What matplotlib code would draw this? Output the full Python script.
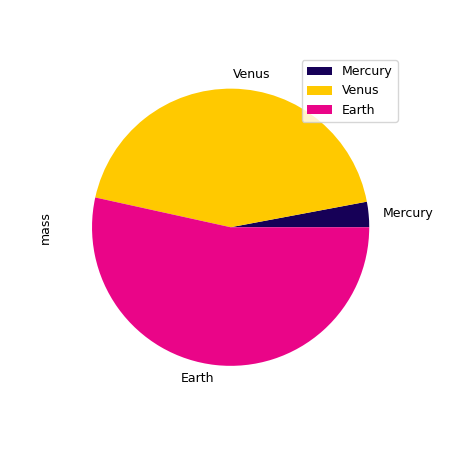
import matplotlib
matplotlib.use("Agg")
import matplotlib.pyplot as plt

planets = ["Mercury", "Venus", "Earth"]
mass = [0.330, 4.87, 5.97]
colors = ["#160057", "#ffc900", "#ea0588"]

plt.rcParams["font.size"] = 9

fig, ax = plt.subplots(figsize=(4.5, 4.5), dpi=100)
ax.pie(mass, labels=planets, colors=colors)
ax.set_ylabel("mass")
ax.legend(loc="upper right")

fig.savefig("out.png")
